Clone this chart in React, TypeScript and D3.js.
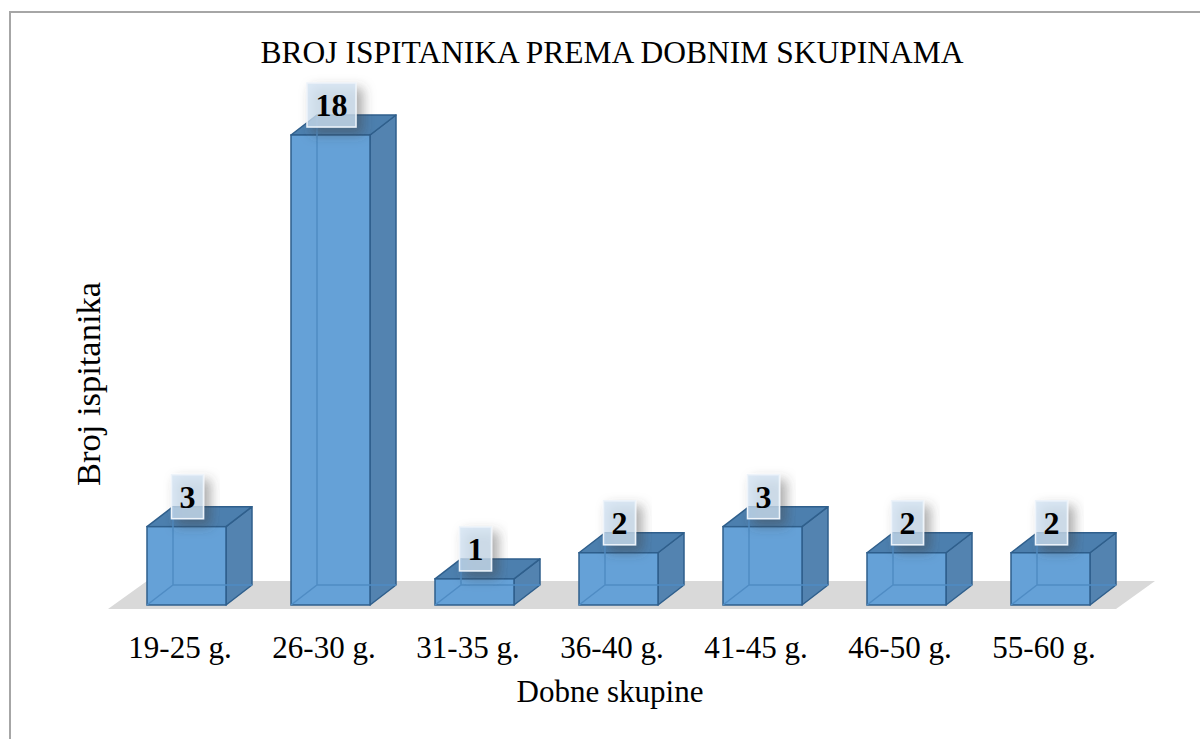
import React from 'react';
import * as d3 from 'd3';

// chart data
const categories = ['19-25 g.', '26-30 g.', '31-35 g.', '36-40 g.', '41-45 g.', '46-50 g.', '55-60 g.'];
const counts = [3, 18, 1, 2, 3, 2, 2];

const chartTitle = 'BROJ ISPITANIKA PREMA DOBNIM SKUPINAMA';
const xTitle = 'Dobne skupine';
const yTitle = 'Broj ispitanika';

const W = 1200;
const H = 739;
const font = '"Liberation Serif", "Times New Roman", serif';

export default function App() {
  const x = d3.scaleBand<string>().domain(categories).range([108, 1116]).padding(0);
  const y = d3.scaleLinear().domain([0, 18]).range([605, 135]);

  const step = x.bandwidth();
  const barLeft = 39; // offset of front face inside band
  const barW = 79;
  const dx = 26;
  const dy = -20;

  // floor
  const floorFront = 609;
  const floorBack = 581;
  const fl = x.range()[0];
  const fr = x.range()[1];
  const floor = [
    [fl, floorFront],
    [fr, floorFront],
    [fr + 39, floorBack],
    [fl + 39, floorBack],
  ];

  const pts = (p: number[][]) => p.map(d => d.join(',')).join(' ');

  return (
    <svg
      width={W}
      height={H}
      style={{ position: 'fixed', left: 0, top: 0, background: '#fff' }}
      fontFamily={font}
    >
      <defs>
        <filter id="lblShadow" x="-50%" y="-50%" width="200%" height="200%">
          <feDropShadow dx="6" dy="6" stdDeviation="6" floodColor="#444" floodOpacity="0.6" />
        </filter>
      </defs>

      {/* frame */}
      <path d={`M10,${H + 5} L10,12 L${W + 5},12`} fill="none" stroke="#a6a6a6" strokeWidth={2} />

      <text x={612} y={63} textAnchor="middle" fontSize={31.5} fill="#000">
        {chartTitle}
      </text>

      {/* floor */}
      <polygon points={pts(floor)} fill="#d9d9d9" />

      {/* bars */}
      {categories.map((c, i) => {
        const x0 = (x(c) as number) + barLeft;
        const x1 = x0 + barW;
        const y0 = y(0);
        const y1 = y(counts[i]);
        const edge = '#2f5f8c';
        return (
          <g key={c}>
            {/* right side */}
            <polygon
              points={pts([[x1, y0], [x1 + dx, y0 + dy], [x1 + dx, y1 + dy], [x1, y1]])}
              fill="#5383b0"
              stroke={edge}
              strokeWidth={1.5}
              strokeLinejoin="round"
            />
            {/* top */}
            <polygon
              points={pts([[x0, y1], [x1, y1], [x1 + dx, y1 + dy], [x0 + dx, y1 + dy]])}
              fill="#4c7fae"
              stroke={edge}
              strokeWidth={1.5}
              strokeLinejoin="round"
            />
            {/* front */}
            <rect x={x0} y={y1} width={barW} height={y0 - y1} fill="#65a1d7" stroke={edge} strokeWidth={1.5} />
            {/* hidden edges seen through */}
            <path
              d={`M${x0},${y0} L${x0 + dx},${y0 + dy} L${x1 + dx},${y0 + dy} M${x0 + dx},${y0 + dy} L${x0 + dx},${y1 + dy}`}
              fill="none"
              stroke="#4f8cc4"
              strokeWidth={1.5}
            />
          </g>
        );
      })}

      {/* value labels */}
      {categories.map((c, i) => {
        const cx = (x(c) as number) + barLeft + barW / 2 + 1;
        const bottom = y(counts[i]) - 8;
        const label = String(counts[i]);
        const bw = label.length > 1 ? 49 : 32;
        return (
          <g key={'l' + c}>
            <rect
              x={cx - bw / 2}
              y={bottom - 44}
              width={bw}
              height={44}
              fill="#cfe0f1"
              fillOpacity={0.72}
              stroke="#eef4fa"
              strokeWidth={1.5}
              filter="url(#lblShadow)"
            />
            <text x={cx} y={bottom - 11} textAnchor="middle" fontSize={32} fontWeight="bold" fill="#000">
              {label}
            </text>
          </g>
        );
      })}

      {/* category labels */}
      {categories.map(c => (
        <text
          key={'t' + c}
          x={(x(c) as number) + step / 2}
          y={658}
          textAnchor="middle"
          fontSize={31}
          fill="#000"
        >
          {c}
        </text>
      ))}

      <text x={610} y={702} textAnchor="middle" fontSize={31} fill="#000">
        {xTitle}
      </text>
      <text
        transform="translate(100,384) rotate(-90)"
        textAnchor="middle"
        fontSize={34.5}
        fill="#000"
      >
        {yTitle}
      </text>
    </svg>
  );
}
